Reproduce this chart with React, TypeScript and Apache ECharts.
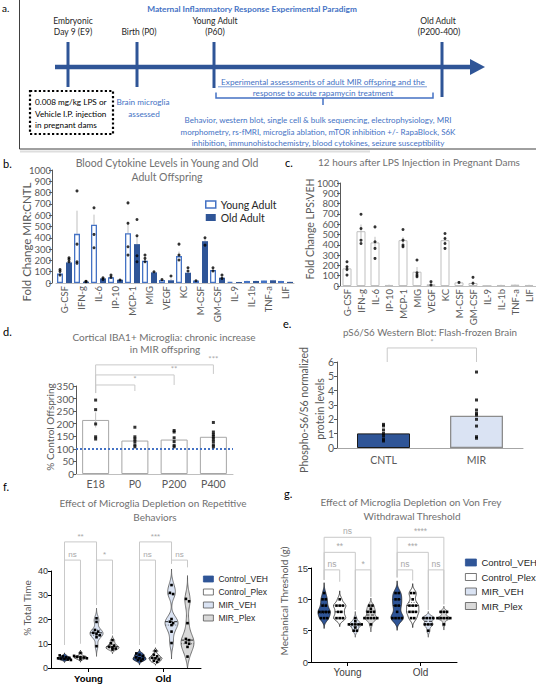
import React, { useEffect, useRef } from "react";
import * as echarts from "echarts";

// ---------------- data ----------------
const cytokines = ["G-CSF", "IFN-g", "IL-6", "IP-10", "MCP-1", "MIG", "VEGF", "KC", "M-CSF", "GM-CSF", "IL-9", "IL-1b", "TNF-a", "LIF"];
const youngMean = [85, 435, 515, 50, 440, 197, 26, 238, 22, 115, 10, 18, 22, 18];
const youngErr = [15, 205, 90, 10, 105, 20, 5, 40, 5, 15, 2, 3, 4, 3];
const youngDots = [[120, 103, 70], [815, 344, 188, 174], [665, 430, 312], [70, 50], [709, 529, 321, 247], [247, 218, 188], [30], [344, 247, 203], [20], [135, 106], [], [], [], []];
const oldMean = [182, 12, 41, 29, 344, 94, 24, 91, 370, 47, 9, 18, 24, 10];
const oldErr = [20, 3, 8, 5, 75, 8, 15, 15, 30, 12, 2, 3, 4, 3];
const oldDots = [[224, 209, 188], [15, 12], [47, 32], [26], [562, 418, 241, 188], [100], [62], [135, 106], [400, 335], [70, 41], [], [], [], []];

const lpsMean = [171, 532, 423, 10, 445, 139, 16, 445, 35, 29, 3, 10, 13, 10];
const lpsErr = [30, 65, 55, 3, 30, 45, 8, 35, 4, 20, 1, 2, 2, 2];
const lpsDots = [[235, 187, 161, 106], [697, 558, 445, 413], [574, 429, 365, 268], [], [548, 445, 397, 381], [252, 129, 106, 90], [42, 10], [510, 461, 413, 365], [35], [84, 26], [], [], [], []];

const ibaCats = ["E18", "P0", "P200", "P400"];
const ibaMean = [215, 133, 137, 148];
const ibaErr = [30, 12, 12, 12];
const ibaDots = [[294, 256, 199, 148, 139], [186, 148, 139, 129, 116, 108], [173, 167, 144, 129, 114, 108], [205, 167, 157, 148, 139, 129, 116, 108]];

const ps6Cats = ["CNTL", "MIR"];
const ps6Mean = [1.02, 2.25];
const ps6Dots = [[1.65, 1.54, 1.26, 1.02, 0.86, 0.63, 0.49], [5.3, 3.35, 2.65, 2.42, 2.3, 2.0, 1.53, 0.79, 0.68]];

const ageGroups = ["Young", "Old"];
const treatments = ["Control_VEH", "Control_Plex", "MIR_VEH", "MIR_Plex"];
// % total time (repetitive behaviours): [CV, CP, MV, MP]
const repYoung = [
  [5.2, 4.8, 4.4, 4.2, 4.0, 3.9, 3.7, 3.5, 3.3],
  [6.2, 5.0, 4.6, 4.5, 4.3, 4.0, 3.6],
  [20.5, 19, 15.7, 15, 14.5, 14, 13.5, 12.7, 9],
  [11.5, 10.2, 9.2, 8.8, 8.4, 8, 7.6],
];
const repOld = [
  [6, 5.5, 5, 4.4, 4, 3.7, 3.3, 3],
  [7, 5.5, 4.8, 4.2, 4, 3.5, 3, 2.5],
  [34.2, 31, 30.5, 20.2, 19.1, 18.5, 17.7, 15, 10.3],
  [28.5, 27.5, 18.5, 12, 11.5, 10.5, 10, 8.7, 4.7],
];
// von Frey threshold (g): [CV, CP, MV, MP]
const vfYoung = [
  [11, 10, 10, 9, 9, 8, 8, 8, 8, 7, 7, 7],
  [10, 9, 9, 9, 8, 8, 7, 7, 7],
  [7, 6.5, 6, 6, 6, 6, 6, 5.5, 5, 5],
  [9, 9, 8.5, 8, 8, 8, 7, 7, 7, 7, 7, 6],
];
const vfOld = [
  [11, 11, 10, 10, 9, 9, 8, 7, 7, 7, 7],
  [11, 11, 10, 9, 9, 9, 8, 8, 8, 7, 7],
  [7, 7, 7, 7, 6, 6, 6, 5],
  [8, 8, 8, 7, 7, 7, 7, 7, 6],
];

// significance annotations: [cat, fraction-of-band] ends, level values in axis units
type Sig = { a: [number, number]; b: [number, number]; top: number; da: number; db: number; label: string; at: "mid" | "end" };
const ibaSig: Sig[] = [
  { a: [0, 0], b: [3, 0], top: 434, da: 322, db: 398, label: "***", at: "end" },
  { a: [0, 0], b: [2, 0], top: 394, da: 322, db: 354, label: "**", at: "end" },
  { a: [0, 0], b: [1, 0], top: 354, da: 322, db: 330, label: "*", at: "end" },
];
const ps6Sig: Sig[] = [{ a: [0, 0.04], b: [1, 0], top: 6.98, da: 6.0, db: 6.0, label: "*", at: "mid" }];
const repSig: Sig[] = [
  { a: [0, -0.32], b: [0, 0.107], top: 52, da: 9.5, db: 26, label: "**", at: "mid" },
  { a: [0, -0.32], b: [0, -0.107], top: 44.5, da: 9.5, db: 10, label: "ns", at: "mid" },
  { a: [0, 0.107], b: [0, 0.32], top: 44.5, da: 26, db: 14, label: "*", at: "mid" },
  { a: [1, -0.32], b: [1, 0.107], top: 52, da: 9.5, db: 43, label: "***", at: "mid" },
  { a: [1, -0.32], b: [1, -0.107], top: 44.5, da: 9.5, db: 10, label: "ns", at: "mid" },
  { a: [1, 0.107], b: [1, 0.32], top: 44.5, da: 43, db: 41.5, label: "ns", at: "mid" },
];
const vfSig: Sig[] = [
  { a: [0, -0.32], b: [0, 0.32], top: 19.9, da: 13.1, db: 10.4, label: "ns", at: "mid" },
  { a: [0, -0.32], b: [0, 0.107], top: 17.5, da: 13.1, db: 8.3, label: "**", at: "mid" },
  { a: [0, -0.32], b: [0, -0.107], top: 14.7, da: 13.1, db: 12.8, label: "ns", at: "mid" },
  { a: [0, 0.107], b: [0, 0.32], top: 14.7, da: 8.3, db: 10.4, label: "*", at: "mid" },
  { a: [1, -0.32], b: [1, 0.32], top: 19.9, da: 13.5, db: 9.2, label: "****", at: "mid" },
  { a: [1, -0.32], b: [1, 0.107], top: 17.5, da: 13.5, db: 8.3, label: "***", at: "mid" },
  { a: [1, -0.32], b: [1, -0.107], top: 14.7, da: 13.5, db: 13, label: "ns", at: "mid" },
  { a: [1, 0.107], b: [1, 0.32], top: 14.7, da: 8.3, db: 9.2, label: "ns", at: "mid" },
];

// ---------------- styles ----------------
const FONT = 'Lato, "Noto Sans", sans-serif';
const GP = '"Liberation Sans", Arial, sans-serif';
const BLUE = "#2f5597";
const A_BLUE = "#4472c4";
const TITLE_GRAY = "#707070";
const LBL_GRAY = "#595959";
const violinFill = ["#2f5597", "#ffffff", "#dae3f3", "#d9d9d9"];
const violinStroke = ["#1f1f1f", "#1f1f1f", "#555555", "#555555"];
const violinOffset = [-0.32, -0.107, 0.107, 0.32];
const repBw = [[0.35, 0.4, 1.4, 0.6], [0.6, 0.45, 2.2, 3.2]];
const vfBw = [[0.55, 0.45, 0.35, 0.4], [0.65, 0.5, 0.35, 0.3]];

function txt(text: string, x: number, y: number, o: any = {}) {
  return {
    type: "text", x, y, silent: true, rotation: o.rotation || 0,
    style: {
      text, fill: o.fill || "#262626", fontSize: o.size || 8.5, fontFamily: o.family || FONT,
      fontWeight: o.weight || "normal", align: o.align || "center", verticalAlign: "middle",
    },
  };
}

function dotData(dots: number[][], dx: number) {
  return dots.flatMap((arr, i) => arr.map((v) => ({ value: [i, v], symbolOffset: [dx, 0] })));
}

function errSeries(ax: number, means: number[], errs: number[], dx: number, upOnly: boolean, z: number) {
  return {
    type: "custom", xAxisIndex: ax, yAxisIndex: ax, z, silent: true,
    data: means.map((m, i) => [i, m, errs[i]]),
    renderItem: (_p: any, api: any) => {
      const i = api.value(0), m = api.value(1), e = api.value(2);
      const top = api.coord([i, m + e]);
      const bot = api.coord([i, upOnly ? m : Math.max(0, m - e)]);
      const x = top[0] + dx;
      return { type: "line", shape: { x1: x, y1: top[1], x2: x, y2: bot[1] }, style: { stroke: "#bfbfbf", lineWidth: 1 } };
    },
  };
}

function sigSeries(ax: number, sigs: Sig[], fontSize: number, family: string) {
  return {
    type: "custom", xAxisIndex: ax, yAxisIndex: ax, clip: false, silent: true, z: 6,
    data: sigs.map((_s, i) => [0, 0, i]),
    renderItem: (params: any, api: any) => {
      const s = sigs[params.dataIndex];
      const band = api.size([1, 0])[0];
      const xa = api.coord([s.a[0], 0])[0] + s.a[1] * band;
      const xb = api.coord([s.b[0], 0])[0] + s.b[1] * band;
      const yt = api.coord([0, s.top])[1];
      const ya = api.coord([0, s.da])[1];
      const yb = api.coord([0, s.db])[1];
      return {
        type: "group",
        children: [
          { type: "polyline", shape: { points: [[xa, ya], [xa, yt], [xb, yt], [xb, yb]] }, style: { stroke: "#c9c9c9", lineWidth: 1, fill: null } },
          {
            type: "text", x: s.at === "end" ? xb : (xa + xb) / 2, y: yt - 1.5,
            style: { text: s.label, fill: "#a8a8a8", fontSize, fontFamily: family, align: "center", verticalAlign: "bottom" },
          },
        ],
      };
    },
  };
}

function violinSeries(ax: number, groupsVals: number[][][], bws: number[][], ti: number, halfW: number) {
  return {
    type: "custom", name: treatments[ti], xAxisIndex: ax, yAxisIndex: ax, silent: true, z: 4,
    itemStyle: { color: violinFill[ti], borderColor: violinStroke[ti] },
    data: groupsVals.map((_g, gi) => [gi, 0]),
    renderItem: (_p: any, api: any) => {
      const gi = api.value(0) as number;
      const vals = groupsVals[gi][ti];
      const bw = bws[gi][ti];
      const band = api.size([1, 0])[0];
      const cx = api.coord([gi, 0])[0] + violinOffset[ti] * band;
      const Y = (v: number) => api.coord([gi, v])[1];
      const dens = (v: number) => vals.reduce((s, x) => s + Math.exp(-0.5 * ((v - x) / bw) ** 2), 0);
      const mn = Math.min(...vals), mx = Math.max(...vals);
      const lo = Math.max(0, mn - 3 * bw), hi = mx + 3 * bw;
      const dl = dens(lo), dh = dens(hi);
      const wv = (v: number) => Math.max(0, dens(v) - (dl + ((dh - dl) * (v - lo)) / (hi - lo)));
      const N = 80;
      const samples: number[][] = [];
      let wmax = 0;
      for (let k = 0; k <= N; k++) {
        const v = lo + ((hi - lo) * k) / N;
        const w = wv(v);
        samples.push([v, w]);
        if (w > wmax) wmax = w;
      }
      const right = samples.map(([v, w]) => [cx + (w / wmax) * halfW, Y(v)]);
      const left = samples.slice().reverse().map(([v, w]) => [cx - (w / wmax) * halfW, Y(v)]);
      const children: any[] = [
        { type: "polygon", shape: { points: [...right, ...left] }, style: { fill: violinFill[ti], stroke: violinStroke[ti], lineWidth: 0.8 } },
      ];
      const sorted = [...vals].sort((a, b) => a - b);
      const q = (p: number) => {
        const pos = (sorted.length - 1) * p;
        const i = Math.floor(pos);
        const f = pos - i;
        return sorted[i] + (sorted[Math.min(i + 1, sorted.length - 1)] - sorted[i]) * f;
      };
      [[0.25, 0.6, [1, 1.5]], [0.5, 0.9, [3, 1.5]], [0.75, 0.6, [1, 1.5]]].forEach(([p, lw, dash]: any) => {
        const v = q(p);
        const hw = (wv(v) / wmax) * halfW;
        children.push({ type: "line", shape: { x1: cx - hw, y1: Y(v), x2: cx + hw, y2: Y(v) }, style: { stroke: "#111", lineWidth: lw, lineDash: dash } });
      });
      // dots (simple swarm: clusters of near-equal values spread horizontally)
      const desc = [...vals].sort((a, b) => b - a);
      const clusters: number[][] = [];
      desc.forEach((v) => {
        const c = clusters[clusters.length - 1];
        if (c && Math.abs(Y(v) - Y(c[0])) < 2.6) c.push(v);
        else clusters.push([v]);
      });
      clusters.forEach((c) => {
        c.forEach((v, k) => {
          const dx = (k - (c.length - 1) / 2) * 3.2;
          children.push({ type: "rect", shape: { x: cx + dx - 1.3, y: Y(v) - 1.3, width: 2.6, height: 2.6 }, style: { fill: "#000" } });
        });
      });
      return { type: "group", children };
    },
  };
}

function valueAxis(grid: number, max: number, interval: number, o: any = {}) {
  return {
    type: "value", gridIndex: grid, min: 0, max, interval, offset: o.offset || 0,
    axisLine: { show: true, lineStyle: { color: o.lineColor || "#595959", width: 1 } },
    axisTick: { show: true, length: 3, lineStyle: { color: o.lineColor || "#595959" } },
    axisLabel: {
      fontSize: o.size || 10, color: o.color || LBL_GRAY, fontFamily: o.family || FONT, margin: o.margin ?? 3,
      formatter: (v: number) => String(v),
    },
    splitLine: { show: false },
  };
}

function buildOption(): any {
  const graphic: any[] = [
    // ---- panel a ----
    { type: "rect", silent: true, shape: { x: 19.5, y: -2, width: 530, height: 151 }, style: { fill: "none", stroke: "#404040", lineWidth: 1 } },
    { type: "line", silent: true, shape: { x1: 20, y1: 151.5, x2: 370, y2: 151.5 }, style: { stroke: "#dedede", lineWidth: 2 } },
    txt("a.", 2, 8, { align: "left", size: 10, fill: "#000" }),
    txt("Maternal Inflammatory Response Experimental Paradigm", 252, 8.5, { weight: "bold", fill: A_BLUE, size: 8.3 }),
    { type: "line", silent: true, shape: { x1: 55, y1: 67, x2: 472, y2: 67 }, style: { stroke: BLUE, lineWidth: 4.5 } },
    { type: "polygon", silent: true, shape: { points: [[470, 59], [485, 67], [470, 75]] }, style: { fill: BLUE } },
    ...[[68, 87], [137, 87], [214, 88], [442, 97]].map(([x, y2]) => ({ type: "line", silent: true, shape: { x1: x, y1: 42, x2: x, y2 }, style: { stroke: BLUE, lineWidth: 3 } })),
    txt("Embryonic", 73, 21), txt("Day 9 (E9)", 73, 32),
    txt("Birth (P0)", 139, 32),
    txt("Young Adult", 215, 21), txt("(P60)", 215, 32),
    txt("Old Adult", 438, 21), txt("(P200-400)", 439, 32),
    txt("Experimental assessments of adult MIR offspring and the", 323, 82, { fill: A_BLUE, size: 8.2 }),
    { type: "line", silent: true, shape: { x1: 218, y1: 86.8, x2: 427, y2: 86.8 }, style: { stroke: A_BLUE, lineWidth: 0.7 } },
    txt("response to acute rapamycin treatment", 323, 93, { fill: A_BLUE, size: 8.2 }),
    { type: "polyline", silent: true, shape: { points: [[216, 92.5], [216, 98], [433, 98], [433, 92.5]] }, style: { stroke: A_BLUE, lineWidth: 1.5, fill: null } },
    { type: "line", silent: true, shape: { x1: 323, y1: 98, x2: 323, y2: 105 }, style: { stroke: A_BLUE, lineWidth: 1.5 } },
    { type: "rect", silent: true, shape: { x: 30, y: 91, width: 83, height: 43 }, style: { fill: "none", stroke: "#000", lineWidth: 2.2, lineDash: [2.2, 2.2] } },
    txt("0.008 mg/kg LPS or", 35, 102, { align: "left", fill: "#000", size: 8.2 }),
    txt("Vehicle I.P. injection", 35, 113.5, { align: "left", fill: "#000", size: 8.2 }),
    txt("in pregnant dams", 35, 125, { align: "left", fill: "#000", size: 8.2 }),
    txt("Brain microglia", 143, 102, { fill: A_BLUE, size: 8.2 }),
    txt("assessed", 144, 113.5, { fill: A_BLUE, size: 8.2 }),
    txt("Behavior, western blot, single cell & bulk sequencing, electrophysiology, MRI", 318, 120, { fill: A_BLUE, size: 8 }),
    txt("morphometry, rs-fMRI, microglia ablation, mTOR inhibition +/- RapaBlock, S6K", 318, 131.5, { fill: A_BLUE, size: 8 }),
    txt("inhibition, immunohistochemistry, blood cytokines, seizure susceptibility", 318, 143, { fill: A_BLUE, size: 8 }),

    // ---- panel letters ----
    txt("b.", 3, 163, { align: "left", size: 11, fill: "#000" }),
    txt("c.", 285, 162, { align: "left", size: 11, fill: "#000" }),
    txt("d.", 3, 331, { align: "left", size: 11, fill: "#000" }),
    txt("e.", 283, 323, { align: "left", size: 11, fill: "#000" }),
    txt("f.", 3, 486, { align: "left", size: 11, fill: "#000" }),
    txt("g.", 284, 493, { align: "left", size: 11, fill: "#000" }),

    // ---- titles ----
    txt("Blood Cytokine Levels in Young and Old", 167, 163, { size: 10.5, fill: TITLE_GRAY }),
    txt("Adult Offspring", 167, 177, { size: 10.5, fill: TITLE_GRAY }),
    txt("12 hours after LPS Injection in Pregnant Dams", 419, 162, { size: 10, fill: TITLE_GRAY }),
    txt("Cortical IBA1+ Microglia: chronic increase", 164, 337, { size: 10, fill: TITLE_GRAY }),
    txt("in MIR offspring", 165, 349, { size: 10, fill: TITLE_GRAY }),
    txt("pS6/S6 Western Blot: Flash-frozen Brain", 430, 332, { size: 9.8, fill: TITLE_GRAY }),
    txt("Effect of Microglia Depletion on Repetitive", 153, 503, { size: 10, fill: TITLE_GRAY }),
    txt("Behaviors", 155, 517, { size: 10, fill: TITLE_GRAY }),
    txt("Effect of Microglia Depletion on Von Frey", 411, 502, { size: 10, fill: TITLE_GRAY }),
    txt("Withdrawal Threshold", 412, 516, { size: 10, fill: TITLE_GRAY }),

    // ---- y axis names ----
    txt("Fold Change MIR:CNTL", 26, 242, { rotation: Math.PI / 2, size: 11.5, fill: LBL_GRAY }),
    txt("Fold Change LPS:VEH", 309.5, 229, { rotation: Math.PI / 2, size: 10.5, fill: LBL_GRAY }),
    txt("% Control Offspring", 50, 427, { rotation: Math.PI / 2, size: 10, fill: LBL_GRAY }),
    txt("Phospho-S6/S6 normalized", 304, 410, { rotation: Math.PI / 2, size: 10.5, fill: LBL_GRAY }),
    txt("protein levels", 320, 409, { rotation: Math.PI / 2, size: 10.5, fill: LBL_GRAY }),
    txt("% Total Time", 27, 608, { rotation: Math.PI / 2, size: 10, fill: LBL_GRAY }),
    txt("Mechanical Threshold (g)", 284, 601, { rotation: Math.PI / 2, size: 10, fill: LBL_GRAY }),
  ];

  const catAxis = (grid: number, data: string[], o: any = {}) => ({
    type: "category", gridIndex: grid, data,
    axisLine: { show: true, lineStyle: { color: o.lineColor || "#bfbfbf" } },
    axisTick: o.tick ? { show: true, alignWithLabel: true, length: 4, lineStyle: { color: o.lineColor } } : { show: false },
    axisLabel: {
      interval: 0, rotate: o.rotate || 0, fontSize: o.size || 10, color: o.color || LBL_GRAY,
      fontFamily: o.family || FONT, fontWeight: o.weight || "normal", margin: o.margin ?? 3,
    },
  });

  const legendText = (size: number, family: string) => ({ fontSize: size, color: "#262626", fontFamily: family });
  const treatLegend = treatments.map((n, i) => ({
    name: n, itemStyle: { color: violinFill[i], borderColor: i === 0 ? BLUE : "#555", borderWidth: 0.8 },
  }));

  return {
    animation: false,
    backgroundColor: "#fff",
    graphic,
    grid: [
      { left: 56, top: 170, width: 238, height: 113 },
      { left: 340, top: 183, width: 198, height: 103 },
      { left: 76, top: 386, width: 157, height: 88 },
      { left: 337, top: 362, width: 186, height: 86 },
      { left: 51, top: 571, width: 150, height: 97 },
      { left: 311, top: 568, width: 146, height: 94 },
    ],
    xAxis: [
      catAxis(0, cytokines, { rotate: 90, size: 9.5 }),
      catAxis(1, cytokines, { rotate: 90, size: 9.5 }),
      catAxis(2, ibaCats, { size: 10.5, margin: 4 }),
      catAxis(3, ps6Cats, { size: 10.5, margin: 6, lineColor: "#a6a6a6" }),
      catAxis(4, ageGroups, { tick: true, lineColor: "#000", color: "#000", weight: "bold", size: 9.5, family: GP, margin: 5 }),
      catAxis(5, ageGroups, { tick: true, lineColor: "#000", color: "#404040", size: 10, family: GP, margin: 5 }),
    ],
    yAxis: [
      valueAxis(0, 1000, 100, { offset: 4, size: 9.5, margin: 1 }),
      valueAxis(1, 1000, 100, { size: 9.5, margin: 1 }),
      valueAxis(2, 350, 50, { size: 10, margin: 2 }),
      valueAxis(3, 6, 1, { size: 10.5 }),
      valueAxis(4, 40, 10, { size: 9, family: GP, color: "#333", lineColor: "#000" }),
      valueAxis(5, 15, 5, { size: 9.5, family: GP, color: "#404040", lineColor: "#000" }),
    ],
    legend: [
      {
        left: 205, top: 199, orient: "vertical", itemWidth: 10, itemHeight: 7, itemGap: 2, padding: 0, icon: "rect",
        data: [
          { name: "Young Adult", itemStyle: { color: "#fff", borderColor: A_BLUE, borderWidth: 1.5 } },
          { name: "Old Adult", itemStyle: { color: BLUE } },
        ],
        textStyle: legendText(10.5, FONT), selectedMode: false,
      },
      {
        left: 203, top: 574.5, orient: "vertical", itemWidth: 10, itemHeight: 6, itemGap: 4, padding: 0, icon: "rect",
        data: treatLegend, textStyle: legendText(8.5, GP), selectedMode: false,
      },
      {
        left: 465, top: 557.5, orient: "vertical", itemWidth: 11, itemHeight: 7, itemGap: 4.5, padding: 0, icon: "rect",
        data: treatLegend, textStyle: legendText(9.5, GP), selectedMode: false,
      },
    ],
    series: [
      // ---- b ----
      errSeries(0, youngMean, youngErr, -4.5, true, 1),
      errSeries(0, oldMean, oldErr, 4.5, true, 1),
      {
        type: "bar", name: "Young Adult", xAxisIndex: 0, yAxisIndex: 0, barWidth: 6, barGap: "50%", z: 2,
        data: youngMean, itemStyle: { color: "#fff", borderColor: A_BLUE, borderWidth: 1.3 },
      },
      {
        type: "bar", name: "Old Adult", xAxisIndex: 0, yAxisIndex: 0, barWidth: 6, barGap: "50%", z: 2,
        data: oldMean, itemStyle: { color: BLUE },
      },
      { type: "scatter", xAxisIndex: 0, yAxisIndex: 0, symbol: "circle", symbolSize: 3, z: 5, itemStyle: { color: "#000" }, data: dotData(youngDots, -4.5) },
      { type: "scatter", xAxisIndex: 0, yAxisIndex: 0, symbol: "circle", symbolSize: 3, z: 5, itemStyle: { color: "#000" }, data: dotData(oldDots, 4.5) },
      // ---- c ----
      {
        type: "bar", xAxisIndex: 1, yAxisIndex: 1, barWidth: 9, z: 2,
        data: lpsMean, itemStyle: { color: "#fff", borderColor: "#bfbfbf", borderWidth: 1 },
      },
      errSeries(1, lpsMean, lpsErr, 0, false, 3),
      { type: "scatter", xAxisIndex: 1, yAxisIndex: 1, symbol: "circle", symbolSize: 3, z: 5, itemStyle: { color: "#000" }, data: dotData(lpsDots, 0) },
      // ---- d ----
      {
        type: "bar", xAxisIndex: 2, yAxisIndex: 2, barWidth: 27, z: 2,
        data: ibaMean, itemStyle: { color: "#fff", borderColor: "#a6a6a6", borderWidth: 1 },
        markLine: {
          silent: true, symbol: "none", label: { show: false }, z: 4,
          lineStyle: { color: A_BLUE, type: "dotted", width: 2 },
          data: [{ yAxis: 100 }],
        },
      },
      errSeries(2, ibaMean, ibaErr, 0, false, 3),
      { type: "scatter", xAxisIndex: 2, yAxisIndex: 2, symbol: "rect", symbolSize: 3, z: 5, itemStyle: { color: "#000" }, data: dotData(ibaDots, 0) },
      sigSeries(2, ibaSig, 8, FONT),
      // ---- e ----
      {
        type: "bar", xAxisIndex: 3, yAxisIndex: 3, barWidth: 53, z: 2,
        data: [
          { value: ps6Mean[0], itemStyle: { color: BLUE, borderColor: "#1a1a1a", borderWidth: 1 } },
          { value: ps6Mean[1], itemStyle: { color: "#dae3f3", borderColor: "#8c8c8c", borderWidth: 1.3 } },
        ],
      },
      { type: "scatter", xAxisIndex: 3, yAxisIndex: 3, symbol: "rect", symbolSize: 3, z: 5, itemStyle: { color: "#000" }, data: dotData(ps6Dots, 0) },
      sigSeries(3, ps6Sig, 8, FONT),
      // ---- f ----
      ...treatments.map((_t, ti) => violinSeries(4, [repYoung, repOld], repBw, ti, 6.5)),
      sigSeries(4, repSig, 8, GP),
      // ---- g ----
      ...treatments.map((_t, ti) => violinSeries(5, [vfYoung, vfOld], vfBw, ti, 6.2)),
      sigSeries(5, vfSig, 8.5, GP),
    ],
  };
}

export default function App() {
  const ref = useRef<HTMLDivElement>(null);
  useEffect(() => {
    if (!ref.current) return;
    const chart = echarts.init(ref.current, null, { renderer: "svg" });
    chart.setOption(buildOption());
    return () => chart.dispose();
  }, []);
  return <div ref={ref} style={{ position: "absolute", left: 0, top: 0, width: 536, height: 685, background: "#fff" }} />;
}
